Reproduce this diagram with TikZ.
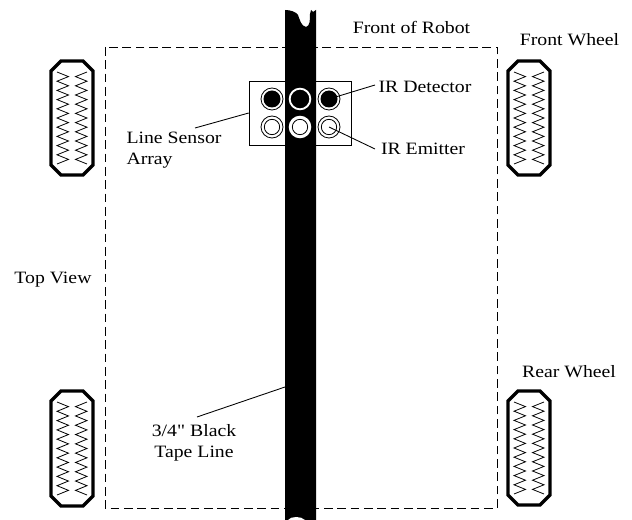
\documentclass[tikz,border=0pt]{standalone}
\usepackage{fontspec}
\setmainfont[FakeStretch=1.14,Ligatures=TeXOff]{Liberation Serif}
\tikzset{
 px/.style={x=0.75pt,y=-0.75pt},
 wheelbody/.style={draw=black,line width=2.6pt,line join=miter,fill=white},
 tread/.style={draw=black,line width=0.6pt},
 lbl/.style={font=\fontsize{13pt}{16pt}\selectfont,inner sep=0pt,align=center},
 leader/.style={draw=black,line width=0.65pt},
 ringdark/.style={circle,draw=black,line width=0.6pt,fill=white,minimum size=16.5pt,inner sep=0pt},
 ringtape/.style={circle,draw=white,line width=1.4pt,minimum size=15.5pt,inner sep=0pt},
 ringinner/.style={circle,draw=black,line width=0.6pt,minimum size=11.5pt,inner sep=0pt},
}
\newcommand{\wheelshape}[4]{% x1,y1,x2,y2
  \draw[wheelbody] (#1+10,#2) -- (#3-10,#2) -- (#3,#2+10) -- (#3,#4-10) -- (#3-10,#4) -- (#1+10,#4) -- (#1,#4-10) -- (#1,#2+10) -- cycle;
  \draw[tread] (#1+6,#2+11)
    \foreach \i in {0,...,9}{ -- ++(11.5,{(#4-#2-22)/20}) -- ++(-11.5,{(#4-#2-22)/20}) };
  \draw[tread] (#3-6,#2+11)
    \foreach \i in {0,...,9}{ -- ++(-11.5,{(#4-#2-22)/20}) -- ++(11.5,{(#4-#2-22)/20}) };
}
\begin{document}
\begin{tikzpicture}[px]
\useasboundingbox (0,0) rectangle (632,520);
\draw[black,line width=0.65pt,dash pattern=on 6.5pt off 3.5pt] (105,47) rectangle (497,508);
\node[draw=black,line width=0.7pt,fill=white,minimum width=77pt,minimum height=48pt,inner sep=0pt] (box) at (300.5,113) {};
\fill[black] (285,10) .. controls (291,10) and (296,12) .. (298,15) .. controls (300,20) and (301,26) .. (306,27) .. controls (310,26) and (310,20) .. (310,14) -- (311,10) -- (313,12) -- (316,10) -- (316,520) -- (285,520) -- cycle;
\fill[white] (288,520) .. controls (291,516) and (301,516) .. (305,520) -- cycle;
\wheelshape{51}{61}{93}{175}
\wheelshape{51}{391}{93}{506}
\wheelshape{508}{61}{550}{175}
\wheelshape{508}{391}{550}{505}
\foreach \n/\x in {a/272,c/329}{
 \node[ringdark] (\n1) at (\x,99) {};
 \fill[black] (\n1) circle (8.5);
 \node[ringdark] (\n2) at (\x,127) {};
 \node[ringinner] at (\n2) {};
}
\node[ringtape] (b1) at (300,99) {};
\node[ringtape,fill=white] (b2) at (300,127) {};
\node[ringinner] at (b2) {};
\node[lbl] (front) at (411.5,27.5) {Front of Robot};
\node[lbl] (fw) at (569.5,40) {Front Wheel};
\node[lbl] (rw) at (569,372) {Rear Wheel};
\node[lbl] (det) at (425,87) {IR Detector};
\node[lbl] (em) at (423,149) {IR Emitter};
\node[lbl,align=left] (lsa) at (174,150) {Line Sensor\\Array};
\node[lbl] (top) at (53,280) {Top View};
\node[lbl] (tape) at (194,443) {3/4" Black\\Tape Line};
\coordinate (tapept) at (285,387);
\coordinate (tapefoot) at (197,417);
\coordinate (lsafoot) at (195,128);
\coordinate (detfoot) at (375,85);
\coordinate (emfoot) at (375,149);
\draw[leader] (lsafoot) -- (box.west);
\draw[leader] (detfoot) -- (c1.center);
\draw[leader] (emfoot) -- (c2.center);
\draw[leader] (tapefoot) -- (tapept);
\end{tikzpicture}
\end{document}
